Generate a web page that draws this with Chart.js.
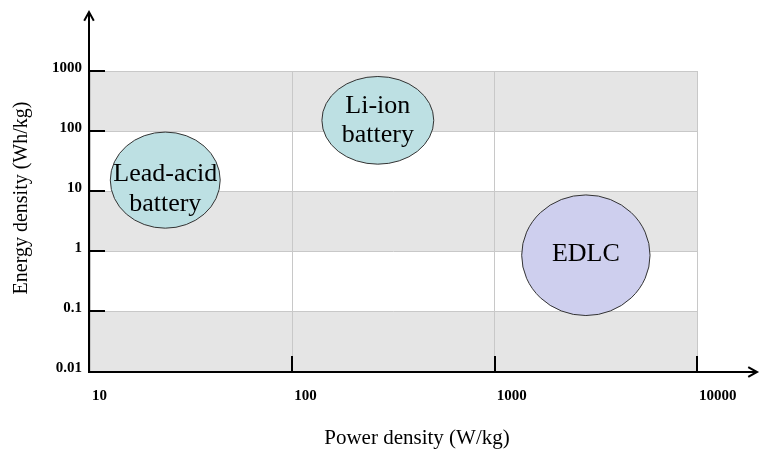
<!DOCTYPE html>
<html>
<head>
<meta charset="utf-8">
<script src="https://cdn.jsdelivr.net/npm/chart.js@4.4.1/dist/chart.umd.min.js"></script>
<style>
  html, body { margin: 0; padding: 0; background: #fff; }
</style>
</head>
<body>
<canvas id="ragoneChart" width="776" height="456"></canvas>
<script>
// technologies, read as the extents of each ellipse (W/kg, Wh/kg)
var techLabels = [['Lead-acid', 'battery'], ['Li-ion', 'battery'], ['EDLC']];
var powerMin = [12.6, 140, 1360];
var powerMax = [44, 500, 5860];
var energyMin = [2.4, 28, 0.084];
var energyMax = [96, 810, 8.6];
var techColors = ['#bde0e3', '#bde0e3', '#cecfee'];

var powerTicks = [10, 100, 1000, 10000];
var powerTickLabels = ['10', '100', '1000', '10000'];
var energyTicks = [0.01, 0.1, 1, 10, 100, 1000];
var energyTickLabels = ['0.01', '0.1', '1', '10', '100', '1000'];
var shadedBands = [[100, 1000], [1, 10], [0.01, 0.1]];

var serif = "'Liberation Serif', 'Times New Roman', serif";
// text boxes in the ellipses aren't all centred (px nudge, line step)
var labelStyle = { shift: [9, 0, -1], lineStep: [30, 29, 29] };

var points = techLabels.map(function(label, i) {
    return {
        x: Math.sqrt(powerMin[i] * powerMax[i]),
        y: Math.sqrt(energyMin[i] * energyMax[i]),
        x0: powerMin[i], x1: powerMax[i],
        y0: energyMin[i], y1: energyMax[i]
    };
});

function drawArrow(ctx, x0, y0, x1, y1) {
    var ang = Math.atan2(y1 - y0, x1 - x0);
    ctx.beginPath();
    ctx.moveTo(x0, y0);
    ctx.lineTo(x1, y1);
    ctx.stroke();
    ctx.beginPath();
    ctx.moveTo(x1 - 10 * Math.cos(ang - 0.5), y1 - 10 * Math.sin(ang - 0.5));
    ctx.lineTo(x1, y1);
    ctx.lineTo(x1 - 10 * Math.cos(ang + 0.5), y1 - 10 * Math.sin(ang + 0.5));
    ctx.stroke();
}

var ragonePlugin = {
    id: 'ragone',
    beforeDraw: function(chart) {
        var ctx = chart.ctx, area = chart.chartArea, ys = chart.scales.y;
        ctx.save();
        ctx.fillStyle = '#e5e5e5';
        shadedBands.forEach(function(b) {
            var top = ys.getPixelForValue(b[1]);
            var bottom = ys.getPixelForValue(b[0]);
            ctx.fillRect(area.left, top, area.right - area.left, bottom - top);
        });
        ctx.restore();
    },
    afterDatasetsDraw: function(chart) {
        var ctx = chart.ctx, area = chart.chartArea;
        var xs = chart.scales.x, ys = chart.scales.y;
        ctx.save();

        // ellipses with their names
        chart.data.datasets[0].data.forEach(function(p, i) {
            var left = xs.getPixelForValue(p.x0), right = xs.getPixelForValue(p.x1);
            var top = ys.getPixelForValue(p.y1), bottom = ys.getPixelForValue(p.y0);
            var cx = (left + right) / 2, cy = (top + bottom) / 2;
            ctx.beginPath();
            ctx.ellipse(cx, cy, (right - left) / 2, (bottom - top) / 2, 0, 0, Math.PI * 2);
            ctx.fillStyle = techColors[i];
            ctx.fill();
            ctx.lineWidth = 1;
            ctx.strokeStyle = '#333';
            ctx.stroke();

            var lines = techLabels[i];
            var step = labelStyle.lineStep[i];
            ctx.fillStyle = '#000';
            ctx.font = '26px ' + serif;
            ctx.textAlign = 'center';
            ctx.textBaseline = 'middle';
            lines.forEach(function(t, k) {
                ctx.fillText(t, cx, cy + labelStyle.shift[i] + (k - (lines.length - 1) / 2) * step);
            });
        });

        // axes with arrows
        ctx.strokeStyle = '#000';
        ctx.lineWidth = 2;
        drawArrow(ctx, area.left - 1, area.bottom + 1, area.left - 1, 12);
        drawArrow(ctx, area.left - 2, area.bottom + 1, 757, area.bottom + 1);

        // inward tick marks
        ctx.beginPath();
        energyTicks.slice(1).forEach(function(v) {
            var py = Math.round(ys.getPixelForValue(v));
            ctx.moveTo(area.left - 1, py);
            ctx.lineTo(area.left + 15, py);
        });
        powerTicks.slice(1).forEach(function(v) {
            var px = Math.round(xs.getPixelForValue(v));
            ctx.moveTo(px, area.bottom + 1);
            ctx.lineTo(px, area.bottom - 15);
        });
        ctx.stroke();

        // axis titles
        ctx.fillStyle = '#000';
        ctx.textAlign = 'center';
        ctx.textBaseline = 'middle';
        ctx.font = '21px ' + serif;
        ctx.fillText('Power density (W/kg)', 417, 438);
        ctx.translate(22, 198);
        ctx.rotate(-Math.PI / 2);
        ctx.font = '20px ' + serif;
        ctx.fillText('Energy density (Wh/kg)', 0, 0);
        ctx.restore();
    }
};

var tickFont = { family: serif, size: 15, weight: 'bold' };

new Chart(document.getElementById('ragoneChart'), {
    type: 'scatter',
    data: {
        datasets: [{
            label: 'Technologies',
            data: points,
            pointRadius: 0,
            pointHoverRadius: 0
        }]
    },
    options: {
        responsive: false,
        animation: false,
        layout: { padding: { top: 71, right: 79, left: 0, bottom: 0 } },
        plugins: {
            legend: { display: false },
            tooltip: { enabled: false }
        },
        scales: {
            x: {
                type: 'logarithmic',
                min: 10,
                max: 10000,
                afterBuildTicks: function(s) {
                    s.ticks = powerTicks.map(function(v) { return { value: v }; });
                },
                afterFit: function(s) {
                    s.height = 85;
                    s.paddingLeft = 0;
                    s.paddingRight = 0;
                },
                grid: { color: '#c8c8c8', lineWidth: 1, drawTicks: false },
                border: { display: false },
                ticks: {
                    autoSkip: false,
                    maxRotation: 0,
                    align: 'start',
                    labelOffset: 2,
                    padding: 16,
                    color: '#000',
                    font: tickFont,
                    callback: function(v, i) { return powerTickLabels[i]; }
                }
            },
            y: {
                type: 'logarithmic',
                min: 0.01,
                max: 1000,
                afterBuildTicks: function(s) {
                    s.ticks = energyTicks.map(function(v) { return { value: v }; });
                },
                afterFit: function(s) {
                    s.width = 90;
                    s.paddingTop = 0;
                    s.paddingBottom = 0;
                },
                grid: { color: '#c8c8c8', lineWidth: 1, drawTicks: false },
                border: { display: false },
                ticks: {
                    autoSkip: false,
                    padding: 8,
                    labelOffset: -3,
                    color: '#000',
                    font: tickFont,
                    callback: function(v, i) { return energyTickLabels[i]; }
                }
            }
        }
    },
    plugins: [ragonePlugin]
});
</script>
</body>
</html>
